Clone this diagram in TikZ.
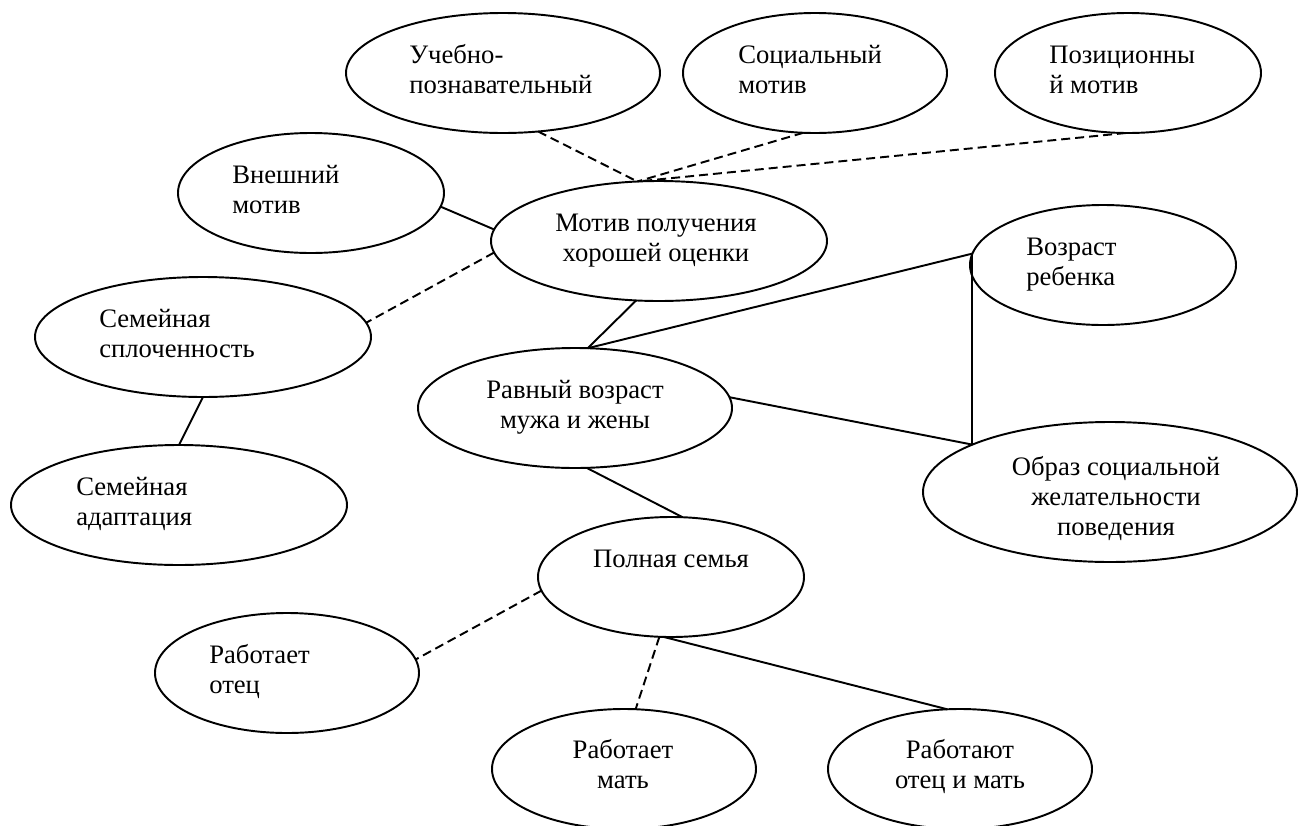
\documentclass[tikz,border=0pt]{standalone}
\usepackage{fontspec}
\setmainfont{Liberation Serif}
\usetikzlibrary{shapes.geometric,calc}
\tikzset{
  ell/.style 2 args={ellipse, draw, line width=1.45pt, inner sep=0pt, outer sep=0pt,
    minimum width=#1*1.5pt, minimum height=#2*1.5pt},
  txt/.style={inner sep=0pt, font=\fontsize{20pt}{22.5pt}\selectfont},
  txtl/.style={txt, align=left, anchor=base west},
  txtc/.style={txt, align=center, anchor=base},
  sld/.style={line width=1.45pt},
  dsh/.style={line width=1.45pt, dash pattern=on 6.75pt off 3.75pt}
}
\begin{document}
\begin{tikzpicture}[x=0.75pt, y=-0.75pt]
\useasboundingbox (0,0) rectangle (1303,825);
% ellipses
\node[ell={157}{60}] (uch) at (503,73) {};
\node[ell={132}{60}] (soc) at (815,73) {};
\node[ell={133}{60}] (pos) at (1128,73) {};
\node[ell={133}{60}] (vne) at (311,193) {};
\node[ell={168}{60}] (mot) at (659,241) {};
\node[ell={168}{60}] (sspl) at (203,337) {};
\node[ell={133}{60}] (voz) at (1103,265) {};
\node[ell={157}{60}] (rav) at (575,408) {};
\node[ell={187}{70}] (obr) at (1110,492) {};
\node[ell={168}{60}] (sad) at (179,505) {};
\node[ell={133}{60}] (pol) at (671,577) {};
\node[ell={132}{60}] (rot) at (287,673) {};
\node[ell={132}{60}] (rmat) at (624,769) {};
\node[ell={132}{60}] (rom) at (960,769) {};
% texts (anchor = baseline of the last line)
\node[txtl] (tuch) at (409,93) {Учебно-\\познавательный};
\node[txtl] (tsoc) at (738,93) {Социальный\\мотив};
\node[txtl] (tpos) at (1049,93) {Позиционны\\й мотив};
\node[txtl] (tvne) at (232,213) {Внешний\\мотив};
\node[txtc] (tmot) at (656,261) {Мотив получения\\хорошей оценки};
\node[txtl] (tsspl) at (99,357) {Семейная\\сплоченность};
\node[txtl] (tvoz) at (1026,285) {Возраст\\ребенка};
\node[txtc] (trav) at (575,428) {Равный возраст\\мужа и жены};
\node[txtc] (tobr) at (1116,535) {Образ социальной\\желательности\\поведения};
\node[txtl] (tsad) at (76,525) {Семейная\\адаптация};
\node[txtc] (tpol) at (671,567) {Полная семья};
\node[txtl] (trot) at (209,693) {Работает\\отец};
\node[txtc] (trmat) at (623,788) {Работает\\мать};
\node[txtc] (trom) at (960,788) {Работают\\отец и мать};
% connectors
\draw[dsh] (uch.-59) -- (mot.110);
\draw[dsh] (soc.-101) -- (mot.110);
\draw[dsh] (pos.-92) -- (mot.110);
\draw[sld] (vne.-6) -- (mot.176);
\draw[dsh] (mot.184) -- (sspl.5);
\draw[sld] (sspl.south) -- (sad.north);
\draw[sld] (mot.-111) -- (rav.78);
\draw[sld] (rav.78) -- (voz.175);
\draw[sld] (voz.175) -- (voz.175 |- obr.161);
\draw[sld] (rav.4) -- (obr.161);
\draw[sld] (rav.-79) -- (pol.79);
\draw[dsh] (pol.186) -- (rot.6);
\draw[dsh] (pol.-101) -- (rmat.79);
\draw[sld] (pol.-97) -- (rom.102);
\end{tikzpicture}
\end{document}
